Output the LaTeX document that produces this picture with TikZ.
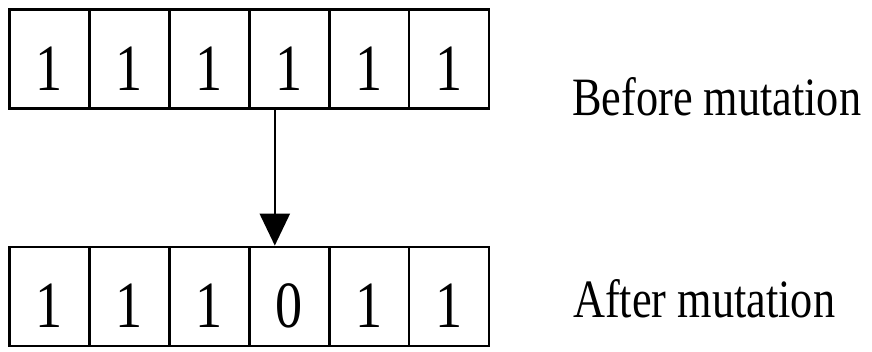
\documentclass[tikz,border=0pt]{standalone}
\usepackage{fontspec}
\setmainfont{Liberation Serif}
\usetikzlibrary{arrows.meta}
\begin{document}
\begin{tikzpicture}[x=1pt,y=-1pt,
  cell/.style={draw=black, line width=2.8pt, minimum width=79.9pt, minimum height=99pt,
    inner sep=0pt, text height=62pt, text depth=0pt,
    font=\fontsize{66}{70}\selectfont},
  lbl/.style={anchor=base west, inner sep=0pt, font=\fontsize{54}{60}\selectfont},
  arr/.style={line width=2.5pt, -{Triangle[width=30pt,length=32pt]}}]
\useasboundingbox (0,0) rectangle (872,351);
\fill[white] (0,0) rectangle (872,351);
% top row
\foreach \i/\d in {1/1,2/1,3/1,4/1,5/1,6/1}{
  \node[cell] (t\i) at ({9.5+79.9*(\i-0.5)},59) {\scalebox{0.82}[1]{\d}};
}
% bottom row
\foreach \i/\d in {1/1,2/1,3/1,4/0,5/1,6/1}{
  \node[cell] (b\i) at ({9.5+79.9*(\i-0.5)},296.5) {\scalebox{0.82}[1]{\d}};
}
\draw[arr] ([xshift=27pt]t4.south west) -- ([xshift=27pt]b4.north west);
\node[lbl] (before) at (572,115) {\scalebox{0.82}[1]{Before mutation}};
\node[lbl] (after) at (573,317) {\scalebox{0.82}[1]{After mutation}};
\end{tikzpicture}
\end{document}
